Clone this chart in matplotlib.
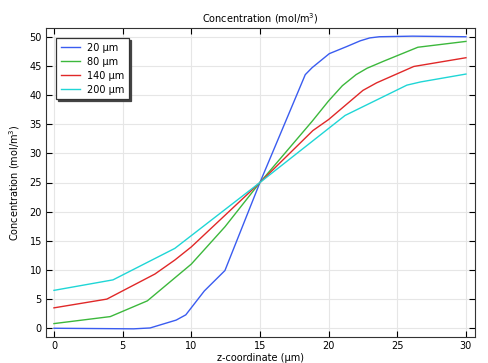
import matplotlib
matplotlib.use("Agg")
import matplotlib.pyplot as plt

# Concentration profiles along z for four widths
x_20 = [0, 5.8, 7.0, 8.9, 9.6, 10.95, 12.45, 15.0, 18.3, 18.8, 20.05, 21.3, 22.3, 23.0, 23.7, 26.1, 30]
y_20 = [0, -0.1, 0.05, 1.4, 2.3, 6.4, 9.9, 25.0, 43.5, 44.7, 47.1, 48.3, 49.3, 49.8, 50.0, 50.1, 50.0]

x_80 = [0, 4.1, 6.8, 10.0, 12.45, 15.0, 18.8, 20.0, 21.0, 22.0, 22.8, 24.0, 26.5, 30]
y_80 = [0.8, 2.0, 4.7, 11.0, 17.4, 25.0, 35.5, 39.0, 41.6, 43.5, 44.6, 45.8, 48.2, 49.2]

x_140 = [0, 3.85, 7.35, 8.8, 10.0, 15.0, 18.85, 20.0, 22.5, 23.5, 26.2, 30]
y_140 = [3.5, 5.0, 9.3, 11.7, 13.95, 25.0, 33.9, 35.8, 40.8, 42.1, 44.9, 46.4]

x_200 = [0, 4.3, 8.8, 15.0, 21.2, 25.7, 26.7, 30]
y_200 = [6.5, 8.3, 13.7, 25.0, 36.5, 41.7, 42.25, 43.6]

labels = ["20 µm", "80 µm", "140 µm", "200 µm"]
colors = ["#3a5cf0", "#3cb83c", "#e02828", "#1fd6d6"]

plt.rcParams["font.family"] = ["DejaVu Sans"]
plt.rcParams["font.size"] = 7

fig = plt.figure(figsize=(4.88, 3.63), dpi=100)
ax = fig.add_axes([46 / 488, 1 - 337 / 363, 429 / 488, 309 / 363])

for xs, ys, lab, c in zip([x_20, x_80, x_140, x_200], [y_20, y_80, y_140, y_200], labels, colors):
    ax.plot(xs, ys, color=c, lw=1.0, label=lab)

ax.set_xlim(-0.58, 30.66)
ax.set_ylim(-1.5, 51.5)
ax.set_xticks(range(0, 31, 5))
ax.set_yticks(range(0, 51, 5))
ax.grid(True, color="#e6e6e6", lw=0.8)
ax.set_axisbelow(True)
ax.tick_params(direction="in", top=True, right=True, length=4, width=0.8, labelsize=7, pad=3)
for s in ax.spines.values():
    s.set_linewidth(0.8)
    s.set_color("#333333")

ax.set_title("Concentration (mol/m$^3$)", fontsize=7, pad=4)
ax.set_xlabel("z-coordinate (µm)", fontsize=7, labelpad=1)
ax.set_ylabel("Concentration (mol/m$^3$)", fontsize=7, labelpad=5)

leg = ax.legend(loc="upper left", bbox_to_anchor=(10 / 429, 1 - 10 / 309), borderaxespad=0,
                fontsize=7, fancybox=False, framealpha=1, edgecolor="#333333",
                shadow={"color": "#444444", "alpha": 1.0, "ox": 1.5, "oy": -1.5},
                handlelength=2.0, borderpad=0.5, labelspacing=0.4, handletextpad=0.7)
leg.get_frame().set_linewidth(0.9)

fig.savefig("out.png", dpi=100)
